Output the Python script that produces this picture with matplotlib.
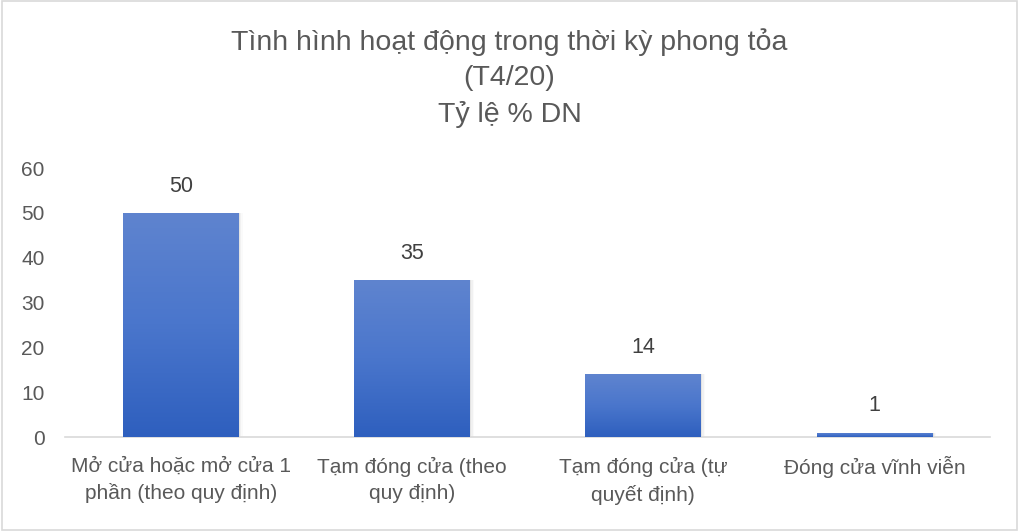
import matplotlib.pyplot as plt
import numpy as np
from matplotlib.colors import LinearSegmentedColormap
from matplotlib.patches import Rectangle

plt.rcParams['font.family'] = ['Liberation Sans', 'DejaVu Sans']

categories = ["Mở cửa hoặc mở cửa 1\nphần (theo quy định)",
              "Tạm đóng cửa (theo\nquy định)",
              "Tạm đóng cửa (tự\nquyết định)",
              "Đóng cửa vĩnh viễn"]
values = [50, 35, 14, 1]
yticks = [0, 10, 20, 30, 40, 50, 60]

txt = "#595959"
fig = plt.figure(figsize=(10.19, 5.31), dpi=100)
fig.add_artist(Rectangle((0.002, 0.002), 0.996, 0.996, transform=fig.transFigure,
                         fill=False, edgecolor="#d9d9d9", linewidth=1.2))
ax = fig.add_axes([0.064, 0.177, 0.9075, 0.5066])

x = np.arange(len(values))
cmap = LinearSegmentedColormap.from_list("g", ["#2e5fbe", "#4a76cc", "#5f84cf"])
grad = np.linspace(0, 1, 256).reshape(-1, 1)
width = 0.5
for xi, v in zip(x, values):
    # soft shadow, mostly right side
    for k, a in enumerate([0.06, 0.035, 0.02]):
        ax.add_patch(Rectangle((xi - width / 2, 0), width + 0.006 * (k + 1),
                               v, facecolor="#000000", alpha=a,
                               edgecolor="none", zorder=1))
    bar = ax.bar(xi, v, width=width, color="#4472c4", zorder=2)[0]
    im = ax.imshow(grad, extent=[xi - width / 2, xi + width / 2, 0, v], origin="lower",
                   aspect="auto", cmap=cmap, zorder=3)
    im.set_clip_path(bar)
    ax.text(xi, v + 3.6, str(v), ha="center", va="bottom", fontsize=15.5, color="#404040")

ax.set_xlim(-0.5, 3.5)
ax.set_ylim(0, 60)
ax.set_yticks(yticks)
ax.set_xticks(x)
ax.set_xticklabels(categories, fontsize=15, color=txt, linespacing=1.5)
ax.tick_params(axis="y", labelsize=15, labelcolor=txt, length=0, pad=15)
ax.tick_params(axis="x", length=0, pad=14)
for s in ["top", "right", "left"]:
    ax.spines[s].set_visible(False)
ax.spines["bottom"].set_color("#d9d9d9")
ax.spines["bottom"].set_linewidth(1.2)

fig.text(0.5, 0.853, "Tình hình hoạt động trong thời kỳ phong tỏa\n(T4/20)\nTỷ lệ % DN",
         ha="center", va="center", fontsize=20.5, color=txt, linespacing=1.45)

fig.savefig("out.png", dpi=100)
